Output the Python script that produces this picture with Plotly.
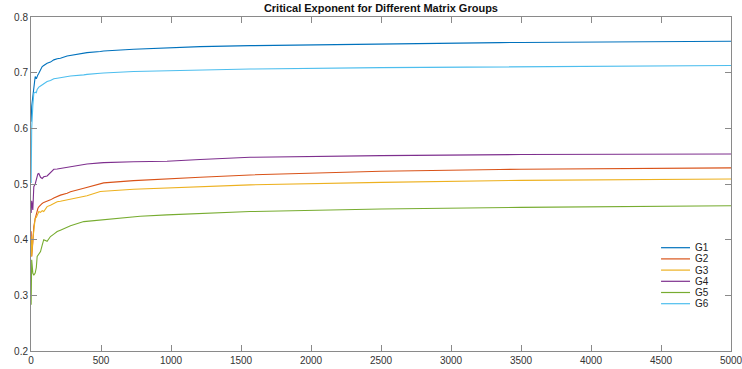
import plotly.graph_objects as go

# Running estimates of the critical exponent for six matrix groups
x_vals = [1, 5, 13, 20, 30, 38, 44, 49, 56, 68, 80, 91, 115, 139, 163, 187, 210, 258, 282,
          377, 400, 495, 519, 733, 780, 971, 1208, 1565, 2500, 3347, 3500, 5000]

g1 = [0.612, 0.640, 0.657, 0.672, 0.693, 0.689, 0.694, 0.696, 0.699, 0.705, 0.711, 0.713, 0.717,
      0.719, 0.723, 0.725, 0.726, 0.730, 0.731, 0.735, 0.736, 0.738, 0.739, 0.742, 0.7425, 0.745,
      0.7467, 0.7485, 0.752, 0.754, 0.7543, 0.7565]
g2 = [0.415, 0.370, 0.395, 0.4235, 0.438, 0.447, 0.4535, 0.456, 0.459, 0.4625, 0.465, 0.467, 0.469,
      0.4715, 0.475, 0.478, 0.480, 0.4835, 0.486, 0.4924, 0.494, 0.5014, 0.502, 0.506, 0.5065, 0.5086,
      0.512, 0.5163, 0.523, 0.526, 0.5265, 0.529]
g3 = [0.406, 0.370, 0.400, 0.420, 0.4386, 0.440, 0.445, 0.448, 0.4505, 0.449, 0.452, 0.4505, 0.4594,
      0.462, 0.465, 0.468, 0.469, 0.4715, 0.473, 0.4774, 0.479, 0.4864, 0.487, 0.4906, 0.491, 0.4924,
      0.495, 0.4984, 0.503, 0.506, 0.5065, 0.509]
g4 = [0.448, 0.470, 0.4535, 0.4953, 0.500, 0.508, 0.516, 0.518, 0.519, 0.512, 0.510, 0.513, 0.5145,
      0.521, 0.5265, 0.527, 0.528, 0.530, 0.531, 0.535, 0.536, 0.538, 0.5384, 0.540, 0.540, 0.541,
      0.544, 0.548, 0.551, 0.5525, 0.553, 0.554]
g5 = [0.283, 0.3637, 0.340, 0.336, 0.340, 0.350, 0.3697, 0.372, 0.375, 0.3786, 0.390, 0.400, 0.397,
      0.4056, 0.410, 0.4146, 0.417, 0.4224, 0.425, 0.4325, 0.433, 0.4356, 0.436, 0.4415, 0.442, 0.4445,
      0.447, 0.4505, 0.455, 0.4575, 0.458, 0.461]
g6 = [0.502, 0.600, 0.640, 0.663, 0.665, 0.664, 0.670, 0.672, 0.674, 0.676, 0.678, 0.680, 0.684,
      0.686, 0.689, 0.690, 0.691, 0.693, 0.694, 0.696, 0.697, 0.699, 0.6995, 0.702, 0.7022, 0.7036,
      0.705, 0.7066, 0.709, 0.7105, 0.711, 0.7128]

names = ["G1", "G2", "G3", "G4", "G5", "G6"]
series = [g1, g2, g3, g4, g5, g6]
colors = ["#0072BD", "#D95319", "#EDB120", "#7E2F8E", "#77AC30", "#4DBEEE"]

x_ticks = list(range(0, 5001, 500))
y_ticks = [0.2, 0.3, 0.4, 0.5, 0.6, 0.7, 0.8]

W, H = 742, 369
ML, MR, MT, MB = 30.5, 11, 17, 18
PW, PH = W - ML - MR, H - MT - MB

FONT = "Liberation Sans, Arial, sans-serif"

fig = go.Figure()
for name, ys, col in zip(names, series, colors):
    fig.add_trace(go.Scatter(x=x_vals, y=ys, mode="lines", name=name, showlegend=False,
                             line=dict(color=col, width=1.1)))

# Compact legend: short line samples with labels, stacked in the lower right
shapes, annotations = [], []
for i, (name, col) in enumerate(zip(names, colors)):
    ypix = 247.7 + 11.2 * i
    yp = (H - MB - ypix) / PH
    x0 = (661 - ML) / PW
    x1 = (690 - ML) / PW
    shapes.append(dict(type="line", xref="paper", yref="paper", x0=x0, x1=x1, y0=yp, y1=yp,
                       line=dict(color=col, width=1.2)))
    annotations.append(dict(xref="paper", yref="paper", x=(693 - ML) / PW, y=yp,
                            xanchor="left", yanchor="middle", text=name, showarrow=False,
                            font=dict(family=FONT, size=10, color="#222222")))

axis_style = dict(showline=True, linecolor="#8a8a8a", linewidth=1, mirror="ticks",
                  ticks="inside", ticklen=6, tickcolor="#8a8a8a", tickwidth=1,
                  showgrid=False, zeroline=False, automargin=False,
                  ticklabeloverflow="allow",
                  tickfont=dict(family=FONT, size=10, color="#333333"))

fig.update_layout(
    width=W, height=H,
    margin=dict(l=ML, r=MR, t=MT, b=MB, autoexpand=False),
    paper_bgcolor="white", plot_bgcolor="white",
    showlegend=False,
    title=dict(text="<b>Critical Exponent for Different Matrix Groups</b>",
               x=0.5134, xanchor="center", y=0.978, yanchor="middle",
               font=dict(family=FONT, size=11, color="#111111")),
    xaxis=dict(range=[0, 5000], tickvals=x_ticks, **axis_style),
    yaxis=dict(range=[0.2, 0.8], tickvals=y_ticks, tickformat=".1f", **axis_style),
    shapes=shapes,
    annotations=annotations,
)

fig.write_html("out.html")
